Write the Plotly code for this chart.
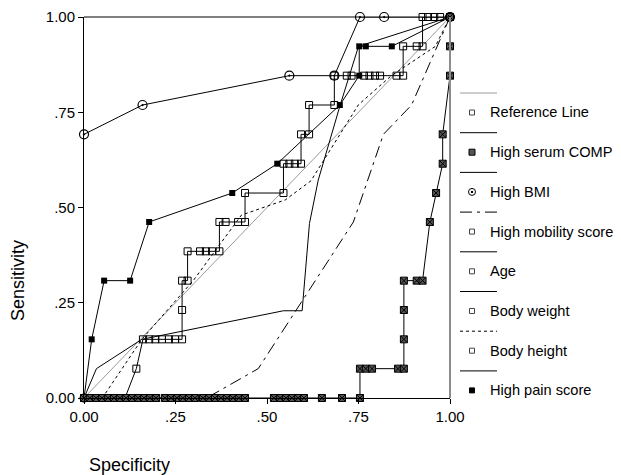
import plotly.graph_objects as go

# ---------------- data (1 - specificity on x, sensitivity on y) ----------------
ref_x = [0.0, 1.0]
ref_y = [0.0, 1.0]

comp_x = [0.0, 0.016, 0.033, 0.049, 0.066, 0.082, 0.098, 0.115, 0.131, 0.148, 0.164, 0.180, 0.197,
          0.221, 0.238, 0.254, 0.270, 0.287, 0.303,
          0.325, 0.342, 0.358, 0.374, 0.391, 0.407, 0.423, 0.440,
          0.519, 0.536, 0.552, 0.568, 0.585, 0.601, 0.650, 0.705, 0.754,
          0.754, 0.770, 0.787, 0.858, 0.874, 0.874, 0.874, 0.874, 0.909, 0.925,
          0.945, 0.962, 0.980, 0.980, 1.0, 1.0, 1.0]
comp_y = [0.0] * 36 + [0.077, 0.077, 0.077, 0.077, 0.077, 0.154, 0.231, 0.308, 0.308, 0.308,
                       0.462, 0.538, 0.615, 0.692, 0.846, 0.923, 1.0]

bmi_x = [0.0, 0.0, 0.160, 0.561, 0.684, 0.754, 0.820, 1.0]
bmi_y = [0.0, 0.692, 0.769, 0.846, 0.846, 1.0, 1.0, 1.0]

mob_x = [0.0, 0.335, 0.476, 0.736, 0.818, 0.895, 1.0]
mob_y = [0.0, 0.0, 0.077, 0.462, 0.692, 0.769, 1.0]

age_x = [0.0, 0.112, 0.143, 0.161, 0.178, 0.195, 0.213, 0.232, 0.249, 0.268, 0.268, 0.268, 0.283,
         0.283, 0.317, 0.333, 0.350, 0.370, 0.370, 0.387, 0.421, 0.440, 0.440, 0.545, 0.545,
         0.561, 0.576, 0.593, 0.593, 0.615, 0.615, 0.684, 0.684, 0.718, 0.731, 0.765, 0.780,
         0.795, 0.809, 0.854, 0.872, 0.872, 0.909, 0.925, 0.925, 0.940, 0.957, 0.973, 1.0]
age_y = [0.0, 0.0, 0.077, 0.154, 0.154, 0.154, 0.154, 0.154, 0.154, 0.154, 0.231, 0.308, 0.308,
         0.385, 0.385, 0.385, 0.385, 0.385, 0.462, 0.462, 0.462, 0.462, 0.538, 0.538, 0.615,
         0.615, 0.615, 0.615, 0.692, 0.692, 0.769, 0.769, 0.846, 0.846, 0.846, 0.846, 0.846,
         0.846, 0.846, 0.846, 0.846, 0.923, 0.923, 0.923, 1.0, 1.0, 1.0, 1.0, 1.0]

wt_x = [0.0, 0.034, 0.158, 0.545, 0.596, 0.616, 0.640, 0.700, 0.750, 1.0]
wt_y = [0.0, 0.077, 0.154, 0.229, 0.229, 0.458, 0.572, 0.769, 0.923, 1.0]

ht_x = [0.0, 0.050, 0.158, 0.300, 0.430, 0.550, 0.620, 0.750, 0.840, 0.960, 1.0]
ht_y = [0.0, 0.0, 0.154, 0.310, 0.480, 0.520, 0.570, 0.770, 0.846, 0.923, 1.0]

pain_x = [0.0, 0.021, 0.055, 0.126, 0.178, 0.405, 0.528, 0.699, 0.752, 0.752, 0.770, 0.841, 1.0]
pain_y = [0.0, 0.154, 0.308, 0.308, 0.462, 0.538, 0.615, 0.769, 0.846, 0.923, 0.923, 0.923, 1.0]

x_tickvals = [0, 0.25, 0.5, 0.75, 1.0]
x_ticktext = ["0.00", ".25", ".50", ".75", "1.00"]
y_tickvals = [0, 0.25, 0.5, 0.75, 1.0]
y_ticktext = ["0.00", ".25", ".50", ".75", "1.00"]

legend_names = ["Reference Line", "High serum COMP", "High BMI", "High mobility score",
                "Age", "Body weight", "Body height", "High pain score"]

# ---------------- figure ----------------
OFF = 8  # default page body margin
W, H = 621 - OFF, 475 - OFF
L, T = 84 - OFF, 17 - OFF
PW, PH = 366, 381
R, B = W - L - PW, H - T - PH
FONT = "Liberation Sans, Arial, sans-serif"


def px2paper(px, py):
    """screen pixel -> paper coordinates"""
    return (px - OFF - L) / PW, (T + PH - (py - OFF)) / PH


fig = go.Figure()

fig.add_trace(go.Scatter(x=ref_x, y=ref_y, mode="lines+markers", cliponaxis=False,
                         line=dict(color="#9a9a9a", width=1),
                         marker=dict(symbol="circle", size=9, color="black")))
fig.add_trace(go.Scatter(x=mob_x, y=mob_y, mode="lines", cliponaxis=False,
                         line=dict(color="black", width=1, dash="12px,5px,3px,5px")))
fig.add_trace(go.Scatter(x=ht_x, y=ht_y, mode="lines", cliponaxis=False,
                         line=dict(color="black", width=1, dash="3px,3px")))
fig.add_trace(go.Scatter(x=wt_x, y=wt_y, mode="lines", cliponaxis=False,
                         line=dict(color="black", width=1)))
fig.add_trace(go.Scatter(x=age_x, y=age_y, mode="lines+markers", cliponaxis=False,
                         line=dict(color="black", width=1),
                         marker=dict(symbol="square-open", size=7, color="black",
                                     line=dict(width=1))))
fig.add_trace(go.Scatter(x=bmi_x[1:], y=bmi_y[1:], mode="lines+markers", cliponaxis=False,
                         line=dict(color="black", width=1),
                         marker=dict(symbol="circle-open-dot", size=9, color="black",
                                     line=dict(width=1.2))))
fig.add_trace(go.Scatter(x=pain_x, y=pain_y, mode="lines+markers", cliponaxis=False,
                         line=dict(color="black", width=1),
                         marker=dict(symbol="square", size=6, color="black")))
fig.add_trace(go.Scatter(x=comp_x, y=comp_y, mode="lines+markers", cliponaxis=False,
                         line=dict(color="black", width=1),
                         marker=dict(symbol="square-x", size=7, color="#555555",
                                     line=dict(color="black", width=1))))

shapes = []
# frame: top black, right gray
shapes.append(dict(type="line", xref="paper", yref="paper", x0=0, x1=1, y0=1, y1=1,
                   line=dict(color="black", width=1)))
shapes.append(dict(type="line", xref="paper", yref="paper", x0=1, x1=1, y0=0, y1=1,
                   line=dict(color="#8c8c8c", width=2)))

annotations = []
line_styles = [("#9a9a9a", "solid"), ("black", "solid"), ("black", "solid"),
               ("black", "12px,5px,3px,5px"), ("black", "solid"), ("black", "solid"),
               ("black", "3px,3px"), ("black", "solid")]
for i, name in enumerate(legend_names):
    ly = 93 + i * 39.7
    ty = ly + 19.5
    x0p, y0p = px2paper(460, ly)
    x1p, _ = px2paper(497, ly)
    col, dsh = line_styles[i]
    shapes.append(dict(type="line", xref="paper", yref="paper", x0=x0p, x1=x1p, y0=y0p, y1=y0p,
                       line=dict(color=col, width=1, dash=dsh)))
    mxp, myp = px2paper(472, ty)
    if i == 1:
        shapes.append(dict(type="rect", xref="paper", yref="paper", xsizemode="pixel",
                           ysizemode="pixel", xanchor=mxp, yanchor=myp,
                           x0=-3, x1=3, y0=-3, y1=3, fillcolor="#555555",
                           line=dict(color="black", width=1)))
    elif i == 2:
        shapes.append(dict(type="circle", xref="paper", yref="paper", xsizemode="pixel",
                           ysizemode="pixel", xanchor=mxp, yanchor=myp,
                           x0=-3.5, x1=3.5, y0=-3.5, y1=3.5, fillcolor="white",
                           line=dict(color="black", width=1)))
        shapes.append(dict(type="circle", xref="paper", yref="paper", xsizemode="pixel",
                           ysizemode="pixel", xanchor=mxp, yanchor=myp,
                           x0=-1.2, x1=1.2, y0=-1.2, y1=1.2, fillcolor="black",
                           line=dict(color="black", width=0)))
    elif i == 7:
        shapes.append(dict(type="rect", xref="paper", yref="paper", xsizemode="pixel",
                           ysizemode="pixel", xanchor=mxp, yanchor=myp,
                           x0=-2.5, x1=2.5, y0=-2.5, y1=2.5, fillcolor="black",
                           line=dict(color="black", width=1)))
    else:
        shapes.append(dict(type="rect", xref="paper", yref="paper", xsizemode="pixel",
                           ysizemode="pixel", xanchor=mxp, yanchor=myp,
                           x0=-2.5, x1=2.5, y0=-2.5, y1=2.5, fillcolor="white",
                           line=dict(color="#444444", width=1)))
    txp, typ = px2paper(488, ty)
    annotations.append(dict(x=txp, y=typ, xref="paper", yref="paper", text=name,
                            showarrow=False, xanchor="left", yanchor="middle",
                            font=dict(family=FONT, size=14.6, color="black")))

# axis titles
sx, sy = px2paper(18, 281)
annotations.append(dict(x=sx, y=sy, xref="paper", yref="paper", text="Sensitivity",
                        showarrow=False, textangle=-90, xanchor="center", yanchor="middle",
                        font=dict(family=FONT, size=18, color="black")))
cx, cy = px2paper(129, 465)
annotations.append(dict(x=cx, y=cy, xref="paper", yref="paper", text="Specificity",
                        showarrow=False, xanchor="center", yanchor="middle",
                        font=dict(family=FONT, size=18, color="black")))

fig.update_layout(
    width=W, height=H, margin=dict(l=L, r=R, t=T, b=B, pad=0, autoexpand=False),
    paper_bgcolor="white", plot_bgcolor="white", showlegend=False,
    font=dict(family=FONT, size=15, color="black"),
    shapes=shapes, annotations=annotations,
    xaxis=dict(range=[0, 1], tickvals=x_tickvals, ticktext=x_ticktext, showgrid=False,
               zeroline=False, showline=True, linecolor="black", linewidth=1,
               ticks="outside", ticklen=5, tickcolor="black", automargin=False,
               tickfont=dict(family=FONT, size=15, color="black")),
    yaxis=dict(range=[0, 1], tickvals=y_tickvals, ticktext=y_ticktext, showgrid=False,
               zeroline=False, showline=True, linecolor="black", linewidth=1,
               ticks="outside", ticklen=5, tickcolor="black", automargin=False,
               tickfont=dict(family=FONT, size=15, color="black")),
)

fig.write_html("out.html")
